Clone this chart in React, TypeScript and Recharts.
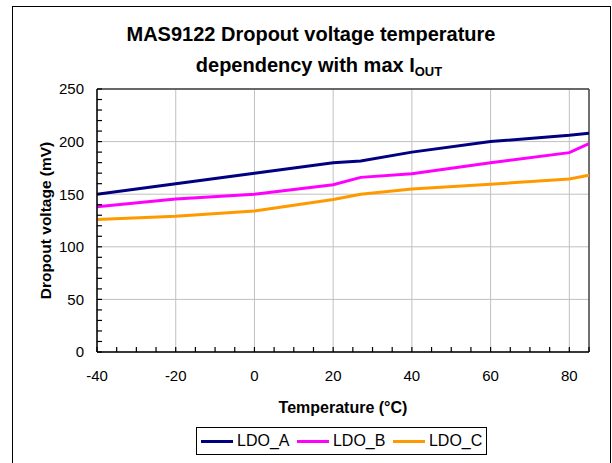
import React from 'react';
import { LineChart, Line, XAxis, YAxis, CartesianGrid, ReferenceLine } from 'recharts';

// values (mV)
const temps = [-40, -20, 0, 20, 27, 40, 60, 80, 85];
const ldoA = [150, 160, 170, 180, 181.5, 190, 200, 206, 208];
const ldoB = [138, 145.5, 150, 159, 166, 169.5, 180, 189.5, 198];
const ldoC = [126, 129, 134, 145, 150, 155, 159.5, 164.5, 168];

const xTicks = [-40, -20, 0, 20, 40, 60, 80];
const xMinorTicks = [-40, -35, -30, -25, -20, -15, -10, -5, 0, 5, 10, 15, 20, 25, 30, 35, 40, 45, 50, 55, 60, 65, 70, 75, 80, 85];
const yTicks = [0, 50, 100, 150, 200, 250];
const yMinorTicks = [0, 10, 20, 30, 40, 50, 60, 70, 80, 90, 100, 110, 120, 130, 140, 150, 160, 170, 180, 190, 200, 210, 220, 230, 240, 250];

const series = [
  { key: 'LDO_A', values: ldoA, color: '#000080' },
  { key: 'LDO_B', values: ldoB, color: '#FF00FF' },
  { key: 'LDO_C', values: ldoC, color: '#FF9900' },
];

const data = temps.map((t, i) => ({
  t,
  LDO_A: ldoA[i],
  LDO_B: ldoB[i],
  LDO_C: ldoC[i],
}));

const font = '"Liberation Sans", Arial, sans-serif';

const App: React.FC = () => {
  return (
    <div
      style={{
        position: 'absolute',
        left: 0,
        top: 0,
        width: 612,
        height: 463,
        overflow: 'hidden',
        background: '#fff',
        fontFamily: font,
      }}
    >
      {/* outer frame */}
      <div
        style={{
          position: 'absolute',
          left: 12,
          top: 6,
          width: 597,
          height: 480,
          border: '1px solid #000',
        }}
      />

      {/* title */}
      <div
        style={{
          position: 'absolute',
          left: 0,
          top: 22,
          width: 622,
          textAlign: 'center',
          fontSize: 20,
          fontWeight: 'bold',
          lineHeight: '25px',
        }}
      >
        MAS9122 Dropout voltage temperature
      </div>
      <div
        style={{
          position: 'absolute',
          left: 0,
          top: 53,
          width: 638,
          textAlign: 'center',
          fontSize: 20,
          fontWeight: 'bold',
          lineHeight: '25px',
        }}
      >
        dependency with max I<sub style={{ fontSize: 13, verticalAlign: '-4px' }}>OUT</sub>
      </div>

      <div style={{ position: 'absolute', left: 0, top: 0 }}>
        <LineChart
          width={612}
          height={463}
          data={data}
          margin={{ top: 89, right: 23, left: 0, bottom: 0 }}
        >
          <CartesianGrid
            stroke="#c0c0c0"
            strokeWidth={1}
            verticalValues={xTicks}
            horizontalValues={yTicks}
          />
          <XAxis
            dataKey="t"
            type="number"
            domain={[-40, 85]}
            ticks={xMinorTicks}
            interval={0}
            allowDataOverflow
            height={111}
            tickSize={-5}
            tickMargin={23}
            tickLine={{ stroke: '#000', strokeWidth: 1.2 }}
            tickFormatter={(v: number) => (xTicks.includes(v) ? String(v) : '')}
            axisLine={{ stroke: '#000', strokeWidth: 1.5 }}
            tick={{ fill: '#000', fontSize: 15, fontFamily: font }}
            label={{
              value: 'Temperature (°C)',
              position: 'center',
              dy: 0,
              style: { fontWeight: 'bold', fontSize: 16, fill: '#000', fontFamily: font },
            }}
          />
          <YAxis
            type="number"
            domain={[0, 250]}
            ticks={yMinorTicks}
            interval={0}
            width={97}
            tickSize={-5}
            tickMargin={18}
            tickLine={{ stroke: '#000', strokeWidth: 1.2 }}
            tickFormatter={(v: number) => (yTicks.includes(v) ? String(v) : '')}
            axisLine={{ stroke: '#000', strokeWidth: 1.5 }}
            tick={{ fill: '#000', fontSize: 15, fontFamily: font }}
            label={{
              value: 'Dropout voltage (mV)',
              angle: -90,
              position: 'center',
              dx: -3,
              style: { fontWeight: 'bold', fontSize: 15.5, fill: '#000', fontFamily: font },
            }}
          />
          <ReferenceLine x={85} stroke="#404040" strokeWidth={1.5} />
          <ReferenceLine y={250} stroke="#404040" strokeWidth={1.5} />
          {series.map((s) => (
            <Line
              key={s.key}
              dataKey={s.key}
              type="linear"
              stroke={s.color}
              strokeWidth={3}
              dot={false}
              isAnimationActive={false}
            />
          ))}
        </LineChart>
      </div>

      {/* legend */}
      <div
        style={{
          position: 'absolute',
          left: 196,
          top: 427,
          width: 291,
          height: 28,
          border: '1px solid #000',
          display: 'flex',
          alignItems: 'center',
          paddingLeft: 4,
          boxSizing: 'border-box',
          fontSize: 16,
        }}
      >
        {series.map((s) => (
          <div key={s.key} style={{ display: 'flex', alignItems: 'center', marginRight: 7.5 }}>
            <div style={{ width: 32, height: 3, background: s.color, marginRight: 4 }} />
            <span style={{ lineHeight: '16px' }}>{s.key}</span>
          </div>
        ))}
      </div>
    </div>
  );
};

export default App;
